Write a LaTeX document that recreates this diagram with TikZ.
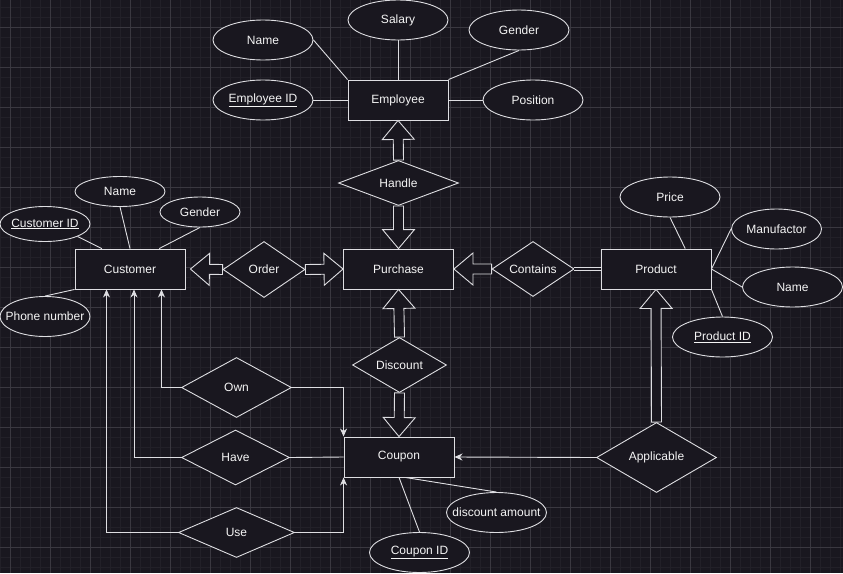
\documentclass[tikz,border=0pt]{standalone}
\usepackage{fontspec}
\setmainfont{Liberation Sans}
\usetikzlibrary{shapes.geometric,arrows.meta,calc}
\definecolor{bg}{RGB}{25,23,31}
\definecolor{gmin}{RGB}{34,32,40}
\definecolor{gmaj}{RGB}{58,56,64}
\definecolor{lc}{RGB}{222,222,226}
\definecolor{tc}{RGB}{245,245,245}
\tikzset{
  base/.style={draw=lc, fill=bg, line width=0.9pt, inner sep=0pt, text=tc,
    font=\fontsize{12}{14}\selectfont,
    execute at begin node={\hbox to 0pt\bgroup\hss},
    execute at end node={\hss\egroup}},
  entity/.style 2 args={base, rectangle, minimum width=#1pt, minimum height=#2pt},
  attr/.style 2 args={base, ellipse, minimum width=#1pt, minimum height=#2pt},
  rel/.style 2 args={base, diamond, aspect=1.5, minimum width=#1pt, minimum height=#2pt},
  conn/.style={draw=lc, line width=0.9pt},
  arr/.style={conn, -{Stealth[length=8pt,width=7pt,inset=2.5pt]}},
  blk/.style={draw=lc, fill=bg, line width=0.9pt, line join=miter},
  minorgrid/.style={draw=gmin, line width=0.7pt},
  majorgrid/.style={draw=gmaj, line width=0.8pt}
}
\newcommand\blockarrow[2]{%
  \path ($(#2)!19pt!(#1)$) coordinate (bc);
  \draw[blk] ($(#1)!5pt!90:(#2)$) -- ($(bc)!5pt!90:(#2)$) -- ($(bc)!16pt!90:(#2)$) -- (#2)
     -- ($(bc)!16pt!-90:(#2)$) -- ($(bc)!5pt!-90:(#2)$) -- ($(#1)!5pt!-90:(#2)$) -- cycle;}
\begin{document}
\begin{tikzpicture}[x=1pt,y=-1pt]
\useasboundingbox (0,0) rectangle (843,573);
\fill[bg] (0,0) rectangle (843,573);
% grid
\foreach \gx in {0.3,10.3,...,843} \draw[minorgrid] (\gx,0) -- (\gx,573);
\foreach \gy in {7,17,...,573} \draw[minorgrid] (0,\gy) -- (843,\gy);
\foreach \gx in {10.3,50.3,...,843} \draw[majorgrid] (\gx,0) -- (\gx,573);
\foreach \gy in {27,67,...,573} \draw[majorgrid] (0,\gy) -- (843,\gy);

% Employee cluster
\node[entity={100}{40}] (Employee) at (398,100) {Employee};
\node[attr={100}{40}] (EName) at (263,40) {Name};
\node[attr={100}{40}] (ESalary) at (398,20) {Salary};
\node[attr={100}{40}] (EGender) at (519,30) {Gender};
\node[attr={100}{40}] (EmpID) at (263,100) {\underline{Employee ID}};
\node[attr={100}{40}] (EPos) at (533,100) {Position};

% Purchase cluster
\node[rel={120}{45}] (Handle) at (398.5,183) {Handle};
\node[entity={110}{40}] (Purchase) at (398.5,269) {Purchase};
\node[rel={82}{56}] (Order) at (264,269.5) {Order};
\node[rel={82}{55}] (Contains) at (533,269) {Contains};

% Customer cluster
\node[entity={110}{40}] (Customer) at (130,269) {Customer};
\node[attr={90}{30}] (CName) at (120,191.5) {Name};
\node[attr={90}{35}] (CustID) at (45,224) {\underline{Customer ID}};
\node[attr={80}{30}] (CGender) at (200,212) {Gender};
\node[attr={90}{40}] (Phone) at (45,316.5) {Phone number};

% Product cluster
\node[entity={110}{40}] (Product) at (656,269) {Product};
\node[attr={100}{40}] (Price) at (670,197) {Price};
\node[attr={90}{40}] (Manuf) at (776.5,229) {Manufactor};
\node[attr={100}{40}] (PName) at (792.5,287) {Name};
\node[attr={100}{40}] (PID) at (722.5,337) {\underline{Product ID}};

% Coupon cluster
\node[rel={94}{55}] (Discount) at (399.5,365) {Discount};
\node[entity={110}{40}] (Coupon) at (399,457) {Coupon};
\node[attr={100}{40}] (DAmt) at (496.5,512.5) {discount amount};
\node[attr={100}{40}] (CouponID) at (419.5,552.5) {\underline{Coupon ID}};
\node[rel={120}{70}] (Applicable) at (656.5,457.5) {Applicable};

% Customer-Coupon relations
\node[rel={110}{60}] (Own) at (236.5,387.5) {Own};
\node[rel={108}{55}] (Have) at (235.5,457.5) {Have};
\node[rel={116}{50}] (Use) at (236.5,532.5) {Use};

% attribute lines
\draw[conn] (EName.east) -- (Employee.north west);
\draw[conn] (ESalary.south) -- (Employee.north);
\draw[conn] (EGender.south) -- (Employee.north east);
\draw[conn] (EmpID.east) -- (Employee.west);
\draw[conn] (Employee.east) -- (EPos.west);

\draw[conn] (CustID.-21) -- (Customer.144.5);
\draw[conn] (CName.south) -- (Customer.north);
\draw[conn] (CGender.south) -- (Customer.35.5);
\draw[conn] (Phone.north) -- (Customer.south west);

\draw[conn] (Price.south) -- (Product.35.5);
\draw[conn] (Manuf.west) -- (Product.east);
\draw[conn] (PName.west) -- (Product.east);
\draw[conn] (PID.north) -- (Product.south east);

\draw[conn] (CouponID.north) -- (Coupon.south);
\draw[conn] (DAmt.north) -- (Coupon.-73);

% relation connectors
\draw[conn, double=bg, double distance=2.4pt] (Contains.east) -- (Product.west);
\draw[arr] (Applicable.west) -- (Coupon.east);
\draw[arr] (Own.west) -| ([xshift=31.5pt]Customer.south);
\draw[arr] (Have.west) -| ([xshift=4pt]Customer.south);
\draw[arr] (Use.west) -| ([xshift=-23.5pt]Customer.south);
\draw[arr] (Own.east) -| (Coupon.north west);
\draw[conn] (Have.east) -- (Coupon.west);
\draw[arr] (Use.east) -| (Coupon.south west);

% block arrows
\coordinate (ctip) at ([xshift=5pt]Customer.east);
\blockarrow{Handle.north}{Employee.south}
\blockarrow{Handle.south}{Purchase.north}
\blockarrow{Order.west}{ctip}
\blockarrow{Order.east}{Purchase.west}
\blockarrow{Contains.west}{Purchase.east}
\blockarrow{Discount.north}{Purchase.south}
\blockarrow{Discount.south}{Coupon.north}
\blockarrow{Applicable.north}{Product.south}
\end{tikzpicture}
\end{document}
